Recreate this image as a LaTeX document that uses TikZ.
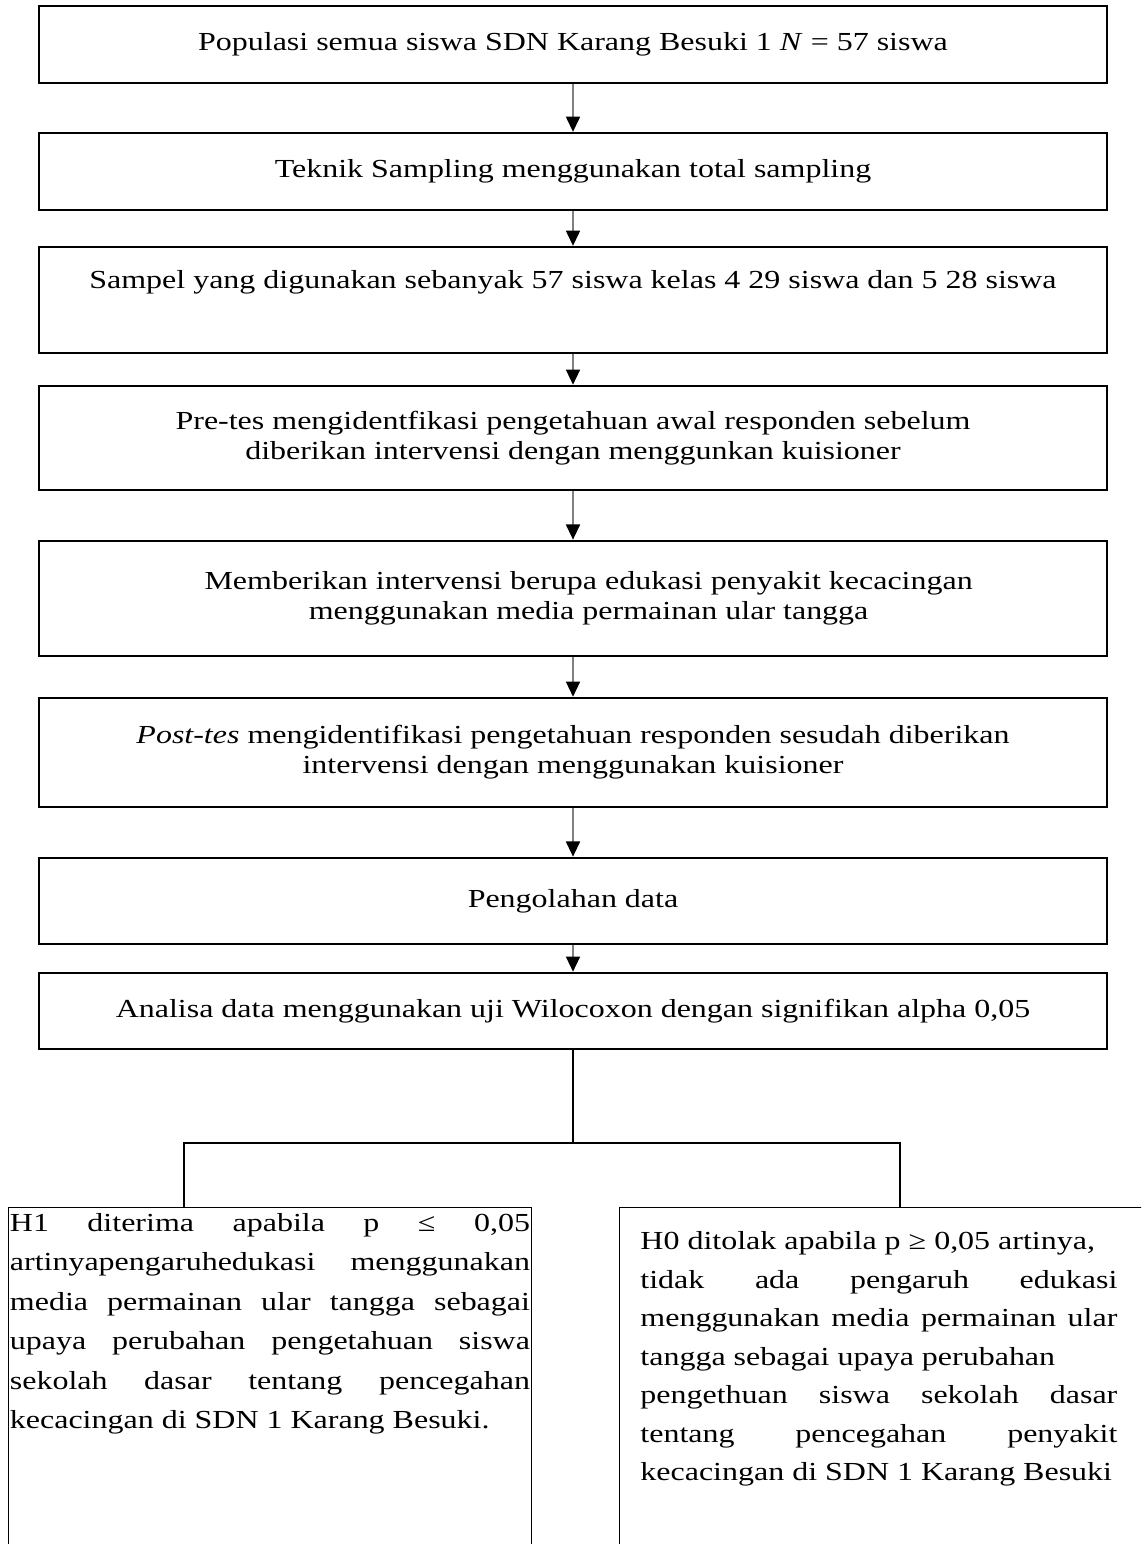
\documentclass[tikz,border=0pt]{standalone}
\usepackage{fontspec}
\setmainfont{Liberation Serif}[FakeStretch=1.23]
\usetikzlibrary{positioning,arrows.meta}
\newcommand{\longgar}{\tolerance=10000 \hyphenpenalty=10000 }

\begin{document}
\begin{tikzpicture}[x=0.4615pt,y=-0.4615pt,node distance=20pt,
    box/.style={rectangle,draw=black,line width=1.1pt,minimum width=492.9pt,
                align=center,font=\fontsize{12}{13.85}\selectfont,inner sep=2pt},
    hbox/.style={rectangle,draw=black,line width=0.6pt,anchor=north west,minimum height=200pt},
    htext/.style={anchor=north west,inner sep=0pt,align=justify,font=\fontsize{12}{18.2}\selectfont},
    ar/.style={draw=gray,line width=0.7pt,-{Triangle[color=black,width=6.5pt,length=7pt]}},
    ln/.style={draw=black,line width=0.5pt}]
  \useasboundingbox (0,0) rectangle (1141,1544);
  \clip (0,0) rectangle (1141,1544);
  % langkah penelitian
  \node[box,minimum height=35.5pt] (pop) at (573,44.5)
    {Populasi semua siswa SDN Karang Besuki 1 \textit{N} = 57 siswa};
  \node[box,minimum height=35.5pt,below=22pt of pop] (tek)
    {Teknik Sampling menggunakan total sampling};
  \node[box,minimum height=48.9pt,text depth=19pt,below=16pt of tek] (sam)
    {Sampel yang digunakan sebanyak 57 siswa kelas 4 29 siswa dan 5 28 siswa};
  \node[box,minimum height=48pt,below=14.1pt of sam] (pre)
    {Pre-tes mengidentfikasi pengetahuan awal responden sebelum\\
     diberikan intervensi dengan menggunkan kuisioner};
  \node[box,minimum height=53.1pt,below=22.4pt of pre] (inter)
    {\hspace*{1.2em}Memberikan intervensi berupa edukasi penyakit kecacingan\\
     \hspace*{1.2em}menggunakan media permainan ular tangga};
  \node[box,minimum height=50.3pt,below=18.3pt of inter] (post)
    {\textit{Post-tes} mengidentifikasi pengetahuan responden sesudah diberikan\\
     intervensi dengan menggunakan kuisioner};
  \node[box,minimum height=39.7pt,below=22.4pt of post] (olah) {Pengolahan data};
  \node[box,minimum height=35.1pt,below=12.3pt of olah] (anal)
    {Analisa data menggunakan uji Wilocoxon dengan signifikan alpha 0,05};
  \draw[ar](pop)--(tek);\draw[ar](tek)--(sam);\draw[ar](sam)--(pre);\draw[ar](pre)--(inter);
  \draw[ar](inter)--(post);\draw[ar](post)--(olah);\draw[ar](olah)--(anal);
  % hipotesis
  \coordinate (fork) at (573,1143);
  \coordinate (legl) at (184,1143);
  \coordinate (legr) at (900,1143);
  \node[hbox,minimum width=241.4pt] (h1box) at (8,1207) {};
  \node[hbox,minimum width=300pt] (h0box) at (619,1207) {};
  \draw[ln] (anal) -- (fork);
  \draw[ln] (legl |- h1box.north) -- (legl) -- (legr) -- (legr |- h0box.north);
  \node[htext,text width=240pt] (h1) at (9.5,1213)
    {\longgar H1 diterima apabila p ≤ 0,05\linebreak
     artinyapengaruhedukasi menggunakan\linebreak
     media permainan ular tangga sebagai\linebreak
     upaya perubahan pengetahuan siswa\linebreak
     sekolah dasar tentang pencegahan\linebreak
     kecacingan di SDN 1 Karang Besuki.\par};
  \node[htext,text width=220.1pt,font=\fontsize{12}{17.8}\selectfont] (h0) at (640,1231)
    {\longgar H0 ditolak apabila p ≥ 0,05 artinya,\\
     tidak ada pengaruh edukasi\linebreak
     menggunakan media permainan ular\linebreak
     tangga sebagai upaya perubahan\\
     pengethuan siswa sekolah dasar\linebreak
     tentang pencegahan penyakit\linebreak
     kecacingan di SDN 1 Karang Besuki\par};
\end{tikzpicture}
\end{document}
